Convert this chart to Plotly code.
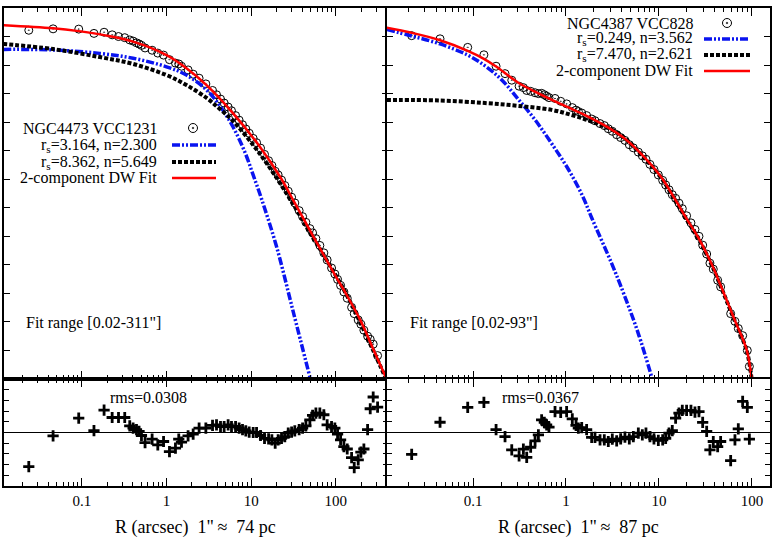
import plotly.graph_objects as go

# ---- NGC4473 / VCC1231 (left) ----
left_r = [0.0236, 0.0457, 0.0918, 0.139, 0.183, 0.228, 0.271, 0.321, 0.368, 0.403,
          0.442, 0.474, 0.506, 0.558, 0.676, 0.789, 0.923, 1.084, 1.276, 1.396,
          1.503, 1.799, 2.065, 2.427, 2.917, 3.499, 3.899, 4.345, 4.797, 5.346,
          5.861, 6.546, 7.211, 7.907, 8.650, 9.484, 10.57, 11.59, 12.91, 14.39,
          16.07, 17.58, 19.23, 20.84, 22.86, 25.00, 27.42, 30.06, 32.81, 36.90,
          40.55, 44.36, 49.43, 53.21, 58.21, 64.86, 72.28, 79.07, 89.13, 97.5,
          105.0, 114.0, 124.7, 136.5, 153.8, 165.2, 184.1, 198.2, 214.8, 237.7,
          255.3, 276.7, 311.9]
left_mu = [12.78, 12.73, 12.74, 12.89, 12.85, 12.94, 13.00, 13.04, 13.12, 13.16,
           13.22, 13.26, 13.31, 13.40, 13.48, 13.58, 13.65, 13.81, 13.93, 13.96,
           14.04, 14.17, 14.32, 14.46, 14.66, 14.89, 15.04, 15.19, 15.33, 15.47,
           15.60, 15.77, 15.93, 16.09, 16.24, 16.39, 16.57, 16.72, 16.91, 17.13,
           17.35, 17.52, 17.72, 17.85, 18.03, 18.22, 18.42, 18.63, 18.83, 19.10,
           19.31, 19.51, 19.73, 19.88, 20.08, 20.32, 20.58, 20.83, 21.11, 21.32,
           21.51, 21.72, 21.95, 22.17, 22.49, 22.71, 22.93, 23.08, 23.29, 23.50,
           23.61, 23.78, 24.18]
left_res = [-0.159, -0.016, 0.067, 0.009, 0.105, 0.070, 0.070, 0.070, 0.031, 0.020,
            0.013, 0.005, -0.014, -0.047, -0.031, -0.058, -0.042, -0.089, -0.073, -0.031,
            -0.045, -0.016, -0.008, 0.020, 0.020, 0.033, 0.036, 0.028, 0.028, 0.036,
            0.028, 0.028, 0.020, 0.013, 0.008, 0.002, 0.0, 0.0, -0.014, -0.027,
            -0.030, -0.034, -0.050, -0.034, -0.027, -0.019, -0.003, 0.002, 0.008, 0.013,
            0.020, 0.031, 0.059, 0.080, 0.091, 0.091, 0.083, 0.036, 0.028, 0.020,
            -0.008, -0.034, -0.066, -0.077, -0.117, -0.164, -0.128, -0.092, -0.077, 0.013,
            0.111, 0.166, 0.119]
left_fit_r = [0.01175, 0.0457, 0.0918, 0.183, 0.403, 1.0, 1.722, 2.972, 6.124, 12.68,
              22.91, 31.62, 54.08, 100.0, 134.3, 199.5, 276.7, 398.1]
left_fit_mu = [12.60, 12.71, 12.81, 12.95, 13.18, 13.65, 14.11, 14.70, 15.69, 16.86,
               18.00, 18.75, 20.00, 21.40, 22.05, 23.00, 23.95, 25.00]
left_in_r = [0.0117, 0.0457, 0.163, 0.403, 1.0, 1.72, 2.97, 4.27, 6.12, 8.43,
             10.56, 13.27, 19.95, 31.4, 49.4]
left_in_mu = [13.45, 13.47, 13.59, 13.76, 14.06, 14.35, 14.87, 15.43, 16.17, 17.05,
              17.85, 18.69, 20.36, 22.64, 24.93]
left_out_r = [0.0117, 0.0457, 0.163, 0.403, 1.0, 1.72, 2.97, 4.27, 6.12, 10.56,
              15.16, 23.95, 53.9, 134.2, 276.9, 398.0]
left_out_mu = [13.26, 13.44, 13.72, 13.96, 14.35, 14.70, 15.15, 15.54, 15.96, 16.80,
               17.43, 18.31, 20.04, 22.05, 24.00, 25.04]

# ---- NGC4387 / VCC828 (right) ----
right_r = [0.0219, 0.0442, 0.0877, 0.131, 0.177, 0.221, 0.261, 0.313, 0.348, 0.378,
           0.417, 0.465, 0.505, 0.547, 0.585, 0.619, 0.656, 0.762, 0.877, 1.016,
           1.169, 1.282, 1.358, 1.476, 1.667, 1.888, 2.051, 2.323, 2.582, 2.851,
           3.148, 3.508, 3.873, 4.305, 4.797, 5.297, 5.998, 6.622, 7.244, 7.998,
           8.831, 9.840, 10.96, 11.80, 12.82, 13.90, 15.10, 16.41, 17.82, 19.82,
           22.08, 24.38, 26.92, 29.51, 32.58, 35.32, 38.37, 42.76, 46.03, 59.02,
           65.61, 71.29, 79.43, 89.13, 93.76]
right_mu = [12.97, 13.08, 13.38, 13.64, 14.04, 14.30, 14.53, 14.74, 14.79, 14.89,
            14.92, 14.97, 15.00, 14.99, 15.04, 15.09, 15.14, 15.17, 15.27, 15.36,
            15.49, 15.58, 15.63, 15.68, 15.77, 15.89, 15.95, 16.05, 16.12, 16.23,
            16.32, 16.44, 16.54, 16.64, 16.79, 16.90, 17.05, 17.18, 17.30, 17.48,
            17.66, 17.85, 18.04, 18.20, 18.37, 18.54, 18.67, 18.84, 19.03, 19.28,
            19.53, 19.76, 20.00, 20.31, 20.62, 20.94, 21.15, 21.54, 21.77, 22.71,
            22.98, 23.23, 23.48, 24.00, 24.56]
right_res = [-0.102, 0.048, 0.117, 0.141, 0.013, -0.019, -0.081, -0.109, -0.078, -0.116,
             -0.069, -0.039, -0.011, 0.059, 0.047, 0.036, 0.025, 0.098, 0.094, 0.098,
             0.064, 0.033, 0.020, 0.023, 0.013, -0.023, -0.023, -0.034, -0.034, -0.042,
             -0.031, -0.039, -0.030, -0.022, -0.030, -0.019, -0.003, -0.011, -0.003, -0.019,
             -0.030, -0.037, -0.034, -0.027, -0.003, 0.009, 0.067, 0.091, 0.103, 0.103,
             0.103, 0.095, 0.098, 0.047, 0.005, -0.081, -0.042, -0.066, -0.042, -0.131,
             -0.034, 0.017, 0.145, 0.117, -0.031]
right_fit_r = [0.0118, 0.0219, 0.0442, 0.0877, 0.131, 0.177, 0.307, 0.505, 1.016, 1.600,
               2.624, 4.305, 7.063, 10.69, 14.86, 19.95, 26.49, 36.81, 49.20, 65.61,
               87.70, 99.3]
right_fit_mu = [12.69, 12.87, 13.13, 13.50, 13.78, 14.05, 14.62, 14.99, 15.46, 15.75,
                16.12, 16.58, 17.25, 17.95, 18.70, 19.40, 20.05, 20.97, 21.95, 22.95,
                23.98, 25.00]
right_in_r = [0.0118, 0.0219, 0.0442, 0.0877, 0.135, 0.204, 0.307, 0.465, 0.701, 1.059,
              1.514, 1.888, 3.097, 4.305, 5.984, 8.337]
right_in_mu = [12.75, 12.98, 13.26, 13.65, 14.03, 14.52, 15.20, 15.92, 16.75, 17.65,
               18.60, 19.35, 20.95, 22.12, 23.40, 24.92]
right_out_r = [0.0118, 0.0442, 0.135, 0.307, 0.701, 1.151, 1.888, 3.656, 7.063, 10.69,
               14.86, 19.95, 26.49, 36.81, 49.20, 65.61, 87.70, 99.3]
right_out_mu = [15.22, 15.24, 15.33, 15.43, 15.57, 15.75, 15.98, 16.39, 17.28, 17.98,
                18.73, 19.43, 20.08, 21.00, 21.98, 22.98, 24.00, 25.02]

FONT = "Liberation Serif"
BLUE = "#0a14f0"
RED = "#ff0000"
BLUE_DASH = "8px,2px,2px,2px,2px,2px"
BLACK_DASH = "4px,2px"

W, H = 774, 542
ML, MR, MT, MB = 4, 4, 8, 56
PW, PH = W - ML - MR, H - MT - MB
split = (486 - 379) / PH


def px(x):
    return (x - ML) / PW


def py(y):
    return (H - MB - y) / PH


fig = go.Figure()

panels = [
    ("x", "y", "x3", "y3", left_r, left_mu, left_res, left_fit_r, left_fit_mu,
     left_in_r, left_in_mu, left_out_r, left_out_mu),
    ("x2", "y2", "x4", "y4", right_r, right_mu, right_res, right_fit_r, right_fit_mu,
     right_in_r, right_in_mu, right_out_r, right_out_mu),
]
for (xa, ya, xb, yb, r, mu, res, fr, fmu, ir, imu, orr, omu) in panels:
    fig.add_trace(go.Scatter(x=r, y=mu, mode="markers", xaxis=xa, yaxis=ya,
                             marker=dict(symbol="circle-open-dot", size=8, color="black",
                                         line=dict(width=1, color="black"))))
    fig.add_trace(go.Scatter(x=ir, y=imu, mode="lines", xaxis=xa, yaxis=ya,
                             line=dict(color=BLUE, width=3.5, dash=BLUE_DASH, shape="spline")))
    fig.add_trace(go.Scatter(x=orr, y=omu, mode="lines", xaxis=xa, yaxis=ya,
                             line=dict(color="black", width=4, dash=BLACK_DASH, shape="spline")))
    fig.add_trace(go.Scatter(x=fr, y=fmu, mode="lines", xaxis=xa, yaxis=ya,
                             line=dict(color=RED, width=2.5, shape="spline")))
    fig.add_trace(go.Scatter(x=r, y=res, mode="markers", xaxis=xb, yaxis=yb,
                             marker=dict(symbol="cross-thin", size=8,
                                         line=dict(width=2.8, color="black"))))

frame = dict(showline=True, linecolor="black", linewidth=1.5, mirror="ticks",
             ticks="inside", tickcolor="black", showgrid=False, zeroline=False,
             automargin=False)
xlog = dict(type="log", dtick=1, ticklen=8, tickwidth=1.2,
            minor=dict(ticks="inside", ticklen=4, dtick="D1", tickcolor="black", showgrid=False),
            tickfont=dict(family=FONT, size=15, color="black"), **frame)
ytop = dict(range=[25, 12], dtick=1, ticklen=6, showticklabels=False, domain=[split, 1], **frame)
ybot = dict(range=[-0.25, 0.25], dtick=0.05, ticklen=5, showticklabels=False,
            domain=[0, split], **frame)

dl = [0, px(388)]
dr = [px(387), 1]
rl = [-1.92, 2.617]
rr = [-1.925, 2.194]

fig.update_layout(
    width=W, height=H, margin=dict(l=ML, r=MR, t=MT, b=MB),
    paper_bgcolor="white", plot_bgcolor="white", showlegend=False,
    font=dict(family=FONT, size=16, color="black"),
    xaxis=dict(domain=dl, range=rl, anchor="y", showticklabels=False, **xlog),
    xaxis2=dict(domain=dr, range=rr, anchor="y2", showticklabels=False, **xlog),
    xaxis3=dict(domain=dl, range=rl, anchor="y3", **xlog),
    xaxis4=dict(domain=dr, range=rr, anchor="y4", **xlog),
    yaxis=dict(anchor="x", **ytop),
    yaxis2=dict(anchor="x2", **ytop),
    yaxis3=dict(anchor="x3", **ybot),
    yaxis4=dict(anchor="x4", **ybot),
)

# zero lines in the residual panels
for xa, ya in (("x3", "y3"), ("x4", "y4")):
    fig.add_shape(type="line", xref=xa + " domain", yref=ya, x0=0, x1=1, y0=0, y1=0,
                  line=dict(color="black", width=1.2))


def legend(x_text, x0, x1, x_circ, ys, labels):
    fig.add_annotation(x=px(x_text), y=py(ys[0]), xref="paper", yref="paper", text=labels[0],
                       showarrow=False, xanchor="right", yanchor="middle")
    rad = 4.5
    fig.add_shape(type="circle", xref="paper", yref="paper",
                  x0=px(x_circ - rad), x1=px(x_circ + rad), y0=py(ys[0] + rad), y1=py(ys[0] - rad),
                  line=dict(color="black", width=1))
    fig.add_shape(type="circle", xref="paper", yref="paper", fillcolor="black",
                  x0=px(x_circ - 0.8), x1=px(x_circ + 0.8), y0=py(ys[0] + 0.8), y1=py(ys[0] - 0.8),
                  line=dict(color="black", width=0.5))
    styles = [dict(color=BLUE, width=3.5, dash=BLUE_DASH),
              dict(color="black", width=4, dash=BLACK_DASH),
              dict(color=RED, width=2.5)]
    for yv, lab, st in zip(ys[1:], labels[1:], styles):
        fig.add_annotation(x=px(x_text), y=py(yv), xref="paper", yref="paper", text=lab,
                           showarrow=False, xanchor="right", yanchor="middle")
        fig.add_shape(type="line", xref="paper", yref="paper",
                      x0=px(x0), x1=px(x1), y0=py(yv), y1=py(yv), line=st)


legend(159, 172, 216, 193, [128, 145, 162, 178],
       ["NGC4473 VCC1231", "r<sub>s</sub>=3.164, n=2.300",
        "r<sub>s</sub>=8.362, n=5.649", "2-component DW Fit"])
legend(695, 704, 750, 727, [23, 39, 55, 71],
       ["NGC4387 VCC828", "r<sub>s</sub>=0.249, n=3.562",
        "r<sub>s</sub>=7.470, n=2.621", "2-component DW Fit"])

notes = [(24, 323, "Fit range [0.02-311\"]"), (408, 323, "Fit range [0.02-93\"]"),
         (108, 397, "rms=0.0308"), (500, 397, "rms=0.0367")]
for x, y, t in notes:
    fig.add_annotation(x=px(x), y=py(y), xref="paper", yref="paper", text=t,
                       showarrow=False, xanchor="left", yanchor="middle")

# x-axis titles
for xc, t in ((195, "R (arcsec)  1\"\u2009\u2248  74 pc"), (578, "R (arcsec)  1\"\u2009\u2248  87 pc")):
    fig.add_annotation(x=px(xc), y=py(527), xref="paper", yref="paper", text=t,
                       showarrow=False, xanchor="center", yanchor="middle",
                       font=dict(family=FONT, size=18))

# the page's default body margin would shift the figure by 8 px
fig.write_html("out.html", config={"displayModeBar": False},
               post_script="document.body.style.margin='0px';")
